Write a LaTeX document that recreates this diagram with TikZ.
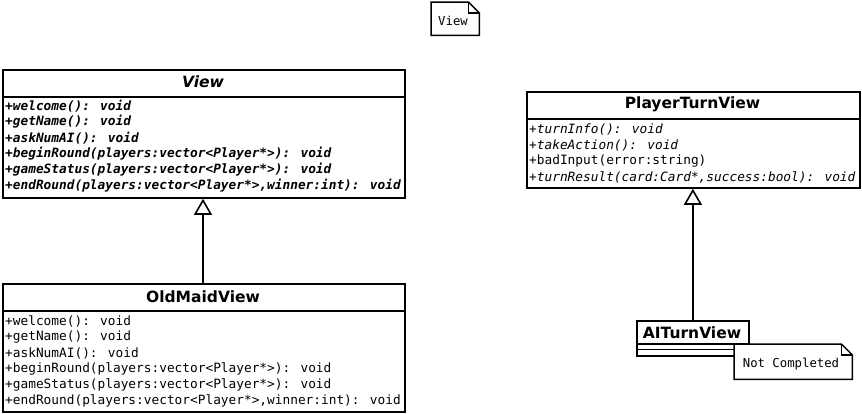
\documentclass[tikz,border=0pt]{standalone}
\usepackage{fontspec}
\setmainfont{DejaVu Sans}
\newfontfamily\umlmono{DejaVu Sans Mono}
\usetikzlibrary{arrows.meta}
\tikzset{
  umlbox/.style={draw, line width=1.8pt, anchor=north west, inner sep=0pt, fill=white},
  sepline/.style={line width=1.6pt},
  title/.style={inner sep=0pt, font=\fontsize{15.5}{16}\selectfont\bfseries},
  meth/.style={inner sep=0pt, anchor=west, font=\fontsize{12.8}{14}\selectfont\umlmono},
  notetext/.style={inner sep=0pt, font=\fontsize{12.3}{14}\selectfont\umlmono},
  notebox/.style={anchor=north west, inner sep=0pt},
  notepath/.style={line width=1.5pt, fill=white, line join=miter},
  inh/.style={line width=1.8pt, -{Triangle[open, length=16pt, width=18pt, line width=1.6pt]}},
}
\begin{document}
\begin{tikzpicture}[x=1pt, y=-1pt]
\useasboundingbox (0,0) rectangle (862,413);

% Note "View"
\node[notebox, minimum width=48pt, minimum height=33pt] (noteview) at (431,2) {};
\draw[notepath] (noteview.north west) -- ([xshift=-11pt]noteview.north east) -- ([yshift=-11pt]noteview.north east) -- (noteview.south east) -- (noteview.south west) -- cycle;
\draw[line width=1.2pt] ([xshift=-11pt]noteview.north east) |- ([yshift=-11pt]noteview.north east);
\node[notetext] (noteviewt) at (453,21) {View};

% View
\node[umlbox, minimum width=402pt, minimum height=128pt] (view) at (2,69) {};
\draw[sepline] (2,97) -- (404,97);
\node[title, font=\fontsize{15.5}{16}\selectfont\bfseries\itshape] (viewt) at (203,82) {View};
\node[meth, font=\fontsize{12.8}{14}\selectfont\umlmono\bfseries\itshape] (v1) at (5,106) {+welcome(): void};
\node[meth, font=\fontsize{12.8}{14}\selectfont\umlmono\bfseries\itshape] (v2) at (5,122) {+getName(): void};
\node[meth, font=\fontsize{12.8}{14}\selectfont\umlmono\bfseries\itshape] (v3) at (5,138) {+askNumAI(): void};
\node[meth, font=\fontsize{12.8}{14}\selectfont\umlmono\bfseries\itshape] (v4) at (5,154) {+beginRound(players:vector<Player*>): void};
\node[meth, font=\fontsize{12.8}{14}\selectfont\umlmono\bfseries\itshape] (v5) at (5,170) {+gameStatus(players:vector<Player*>): void};
\node[meth, font=\fontsize{12.8}{14}\selectfont\umlmono\bfseries\itshape] (v6) at (5,186) {+endRound(players:vector<Player*>,winner:int): void};

% OldMaidView
\node[umlbox, minimum width=402pt, minimum height=128pt] (old) at (2,283) {};
\draw[sepline] (2,311) -- (404,311);
\node[title] (oldt) at (203,297) {OldMaidView};
\node[meth] (o1) at (5,321) {+welcome(): void};
\node[meth] (o2) at (5,337) {+getName(): void};
\node[meth] (o3) at (5,353) {+askNumAI(): void};
\node[meth] (o4) at (5,369) {+beginRound(players:vector<Player*>): void};
\node[meth] (o5) at (5,385) {+gameStatus(players:vector<Player*>): void};
\node[meth] (o6) at (5,401) {+endRound(players:vector<Player*>,winner:int): void};

% PlayerTurnView
\node[umlbox, minimum width=333pt, minimum height=96pt] (ptv) at (526,91) {};
\draw[sepline] (526,119) -- (859,119);
\node[title] (ptvt) at (692.5,104) {PlayerTurnView};
\node[meth, font=\fontsize{12.8}{14}\selectfont\umlmono\itshape] (p1) at (529,129) {+turnInfo(): void};
\node[meth, font=\fontsize{12.8}{14}\selectfont\umlmono\itshape] (p2) at (529,145) {+takeAction(): void};
\node[meth] (p3) at (529,161) {+badInput(error:string)};
\node[meth, font=\fontsize{12.8}{14}\selectfont\umlmono\itshape] (p4) at (529,177) {+turnResult(card:Card*,success:bool): void};

% AITurnView
\node[umlbox, minimum width=112pt, minimum height=35pt] (ai) at (636,320) {};
\draw[sepline] (636,344) -- (748,344);
\draw[sepline] (636,349.5) -- (748,349.5);
\node[title] (ait) at (692,333) {AITurnView};

% Note "Not Completed"
\node[notebox, minimum width=118pt, minimum height=35pt] (notenc) at (734,344) {};
\draw[notepath] (notenc.north west) -- ([xshift=-11pt]notenc.north east) -- ([yshift=-11pt]notenc.north east) -- (notenc.south east) -- (notenc.south west) -- cycle;
\draw[line width=1.2pt] ([xshift=-11pt]notenc.north east) |- ([yshift=-11pt]notenc.north east);
\node[notetext] (notenct) at (791,364) {Not Completed};

% Inheritance
\draw[inh] (old.north -| viewt) -- (view.south -| viewt);
\draw[inh] (ai.north) -- (ai.north |- ptv.south);
\end{tikzpicture}
\end{document}
